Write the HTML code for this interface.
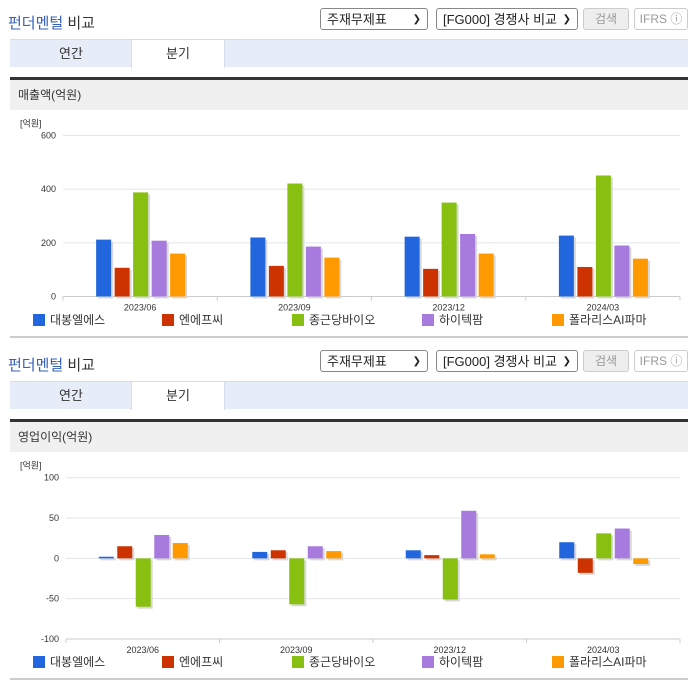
<!DOCTYPE html>
<html><head><meta charset="utf-8">
<style>
body{margin:0;width:696px;height:684px;background:#fff;font-family:"Liberation Sans","Noto Sans CJK KR",sans-serif;position:relative;overflow:hidden}
.sec{position:absolute;left:0;width:696px;height:342px}
.title{position:absolute;left:8px;top:12px;font-size:15px;color:#333}
.title b{color:#3560b8;font-weight:normal}
.sel{position:absolute;top:8px;height:22px;border:1px solid #888;border-radius:3px;font-size:13px;line-height:22px;padding-left:6px;box-sizing:border-box;background:#fff;color:#222}
.sel i{position:absolute;right:6px;top:0;font-style:normal;font-size:10px}
.btn{position:absolute;top:8px;height:22px;border:1px solid #ccc;border-radius:3px;font-size:12px;line-height:20px;text-align:center;box-sizing:border-box;color:#999}
.tabs{position:absolute;left:10px;top:39px;width:678px;height:28px;background:#e6edf8;border-top:1px solid #d5dde8;box-sizing:border-box}
.tab{position:absolute;top:0;height:28px;line-height:27px;text-align:center;font-size:13px;color:#333;width:92px}
.tab.on{background:#fff;border-left:1px solid #d5dde8;border-right:1px solid #d5dde8}
.bar{position:absolute;left:10px;top:77px;width:678px;height:3px;background:#333}
.hd{position:absolute;left:10px;top:80px;width:678px;height:30px;background:#f0f0f0;font-size:12px;color:#333;line-height:30px;padding-left:8px;box-sizing:border-box}
.bot{position:absolute;left:10px;top:336px;width:678px;height:2px;background:#ccc}
svg{position:absolute;left:0;top:110px}
.lg{position:absolute;top:313px;font-size:12px;color:#333;line-height:14px}
.lg span{display:inline-block;width:12px;height:12px;vertical-align:-2px;margin-right:5px}
</style></head><body>
<div id="root"></div>
<script>
const categories=["2023/06","2023/09","2023/12","2024/03"];
const seriesNames=["대봉엘에스","엔에프씨","종근당바이오","하이텍팜","폴라리스AI파마"];
const colors=["#2266dd","#cc3300","#88c011","#a77add","#ff9900"];
const salesBlue=[212,220,223,227];
const salesRed=[107,114,103,110];
const salesGreen=[388,421,350,451];
const salesPurple=[208,186,233,190];
const salesOrange=[160,145,160,141];
const opBlue=[2,8,10,20];
const opRed=[15,10,4,-18];
const opGreen=[-60,-57,-51,31];
const opPurple=[29,15,59,37];
const opOrange=[19,9,5,-7];
const salesTicks=[0,200,400,600];
const opTicks=[-100,-50,0,50,100];
const NS="http://www.w3.org/2000/svg";
function mk(tag,attrs,parent){const e=document.createElementNS(NS,tag);for(const k in attrs)e.setAttribute(k,attrs[k]);parent.appendChild(e);return e;}
function section(top,head,series,ticks,x0,yTop,yBot,name){
  const s=document.createElement('div');s.className='sec';s.style.top=top+'px';
  
  
  s.innerHTML=`<div class="title"><b>펀더멘털</b> 비교</div>
<div class="sel" style="left:320px;width:108px">주재무제표<i>❯</i></div>
<div class="sel" style="left:436px;width:142px">[FG000] 경쟁사 비교<i>❯</i></div>
<div class="btn" style="left:583px;width:46px;background:#eee">검색</div>
<div class="btn" style="left:634px;width:54px">IFRS ⓘ</div>
<div class="tabs"><div class="tab" style="left:15px">연간</div><div class="tab on" style="left:121px">분기</div></div>
<div class="bar"></div>
<div class="hd">${head}</div>
<div class="bot"></div>`;
  const svg=mk('svg',{width:696,height:205},s);
  
  
  const x1=680,mn=ticks[0],mx=ticks[ticks.length-1];
  const y=v=>yBot-(v-mn)/(mx-mn)*(yBot-yTop);
  const cw=(x1-x0)/categories.length;
  const t=mk('text',{x:20,y:yTop-9,'font-size':9,fill:'#333'},svg);t.textContent='[억원]';
  ticks.forEach(v=>{
    const g=mk('line',{x1:x0,x2:x1,y1:y(v),y2:y(v),stroke:'#e2e6ea','stroke-width':1},svg);
    
    const tl=mk('text',{x:x0-7,y:y(v)+3,'font-size':9,fill:'#333','text-anchor':'end'},svg);tl.textContent=v;
    
  });
  const zy=y(0),by=yBot;
  mk('line',{x1:x0,x2:x1,y1:by,y2:by,stroke:'#ccc'},svg);
  for(let i=0;i<=categories.length;i++)mk('line',{x1:x0+i*cw,x2:x0+i*cw,y1:by,y2:by+4,stroke:'#ccc'},svg);
  categories.forEach((c,i)=>{
    const cx=x0+cw*(i+0.5);
    const tx=mk('text',{x:cx,y:by+14,'font-size':9,fill:'#333','text-anchor':'middle'},svg);tx.textContent=c;
    
    series.forEach((arr,k)=>{
      const bx=cx-44+k*18.5,v=arr[i];
      const top=Math.min(y(v),zy),h=Math.abs(y(v)-zy);
      mk('rect',{x:bx+2,y:top+2,width:15,height:h,fill:'#d8d8d8'},svg);
      const r=mk('rect',{x:bx,y:top,width:15,height:h,fill:colors[k]},svg);
      
      
    });
  });
  const lx=[33,162,292,422,552];
  seriesNames.forEach((n,k)=>{
    const l=document.createElement('div');l.className='lg';l.style.left=lx[k]+'px';
    
    
    l.innerHTML=`<span style="background:${colors[k]}"></span>${n}`;s.appendChild(l);
  });
  document.getElementById('root').appendChild(s);
}
section(0,'매출액(억원)',[salesBlue,salesRed,salesGreen,salesPurple,salesOrange],salesTicks,63,25.5,186.5,'sales');
section(342,'영업이익(억원)',[opBlue,opRed,opGreen,opPurple,opOrange],opTicks,66,25.7,187,'operating-profit');
</script>
</body></html>
